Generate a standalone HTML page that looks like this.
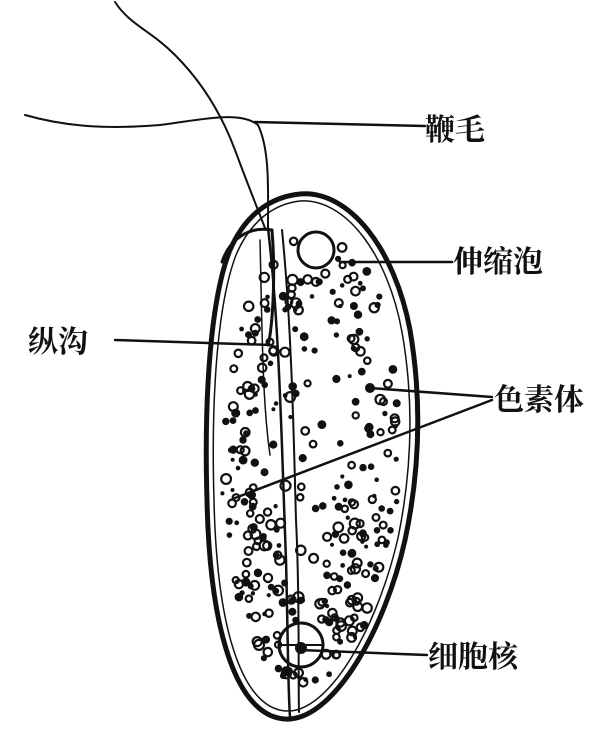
<!DOCTYPE html>
<html><head><meta charset="utf-8"><style>
html,body{margin:0;padding:0;background:#fff;}
svg{display:block}
text{font-family:"Liberation Serif","Noto Serif CJK SC",serif;font-size:30px;fill:#111;font-weight:bold}
</style></head><body>
<svg id="s" width="613" height="751" viewBox="0 0 613 751" xmlns="http://www.w3.org/2000/svg">
<g fill="none" stroke="#111" stroke-linecap="round">
<path d="M115,2 C130,25 150,30 175,55 C200,80 220,110 235,150 C248,185 258,210 265,228" stroke-width="2"/>
<path d="M25,115 C60,125 100,130 160,125 C200,120 240,110 258,125 C270,150 268,190 268,228" stroke-width="2"/>
<!-- body outline -->
<path d="M300,194 C350,190 395,250 410,330 C422,400 420,470 405,540 C385,630 335,716 290,719 C240,722 210,640 207,500 C204,400 210,300 230,250 C245,215 270,197 300,194 Z" stroke-width="5"/>
<path d="M300,201 C346,198 388,255 402,332 C414,400 412,470 398,538 C378,625 332,708 290,711 C246,713 217,640 214,500 C211,400 217,305 236,255 C250,222 273,204 300,201 Z" stroke-width="1.5"/>
<!-- left lobe -->
<path d="M222,262 C230,238 250,226 272,230" stroke-width="3"/>
<path d="M272,230 C276,280 272,330 268,345" stroke-width="3"/>
<!-- groove -->
<path d="M268,228 C280,330 282,460 286,560 C288,640 288,690 290,717" stroke-width="2.5"/>
<path d="M282,230 C292,330 294,450 296,520 C300,600 298,680 299,712" stroke-width="2"/>
<path d="M260,240 C262,320 262,400 270,455" stroke-width="1.5"/>
<circle cx="316" cy="250" r="18" stroke-width="3"/>
<circle cx="301" cy="645" r="22" stroke-width="3"/>
<line x1="279" y1="645" x2="323" y2="645" stroke-width="2"/>
<line x1="255" y1="122" x2="425" y2="126" stroke-width="2.5"/>
<line x1="340" y1="262" x2="452" y2="262" stroke-width="2.5"/>
<line x1="115" y1="340" x2="272" y2="345" stroke-width="2.5"/>
<line x1="370" y1="388" x2="492" y2="397" stroke-width="2.5"/>
<line x1="235" y1="498" x2="492" y2="400" stroke-width="2.5"/>
<line x1="300" y1="650" x2="427" y2="655" stroke-width="2.5"/>
</g>
<circle cx="301" cy="648" r="6" fill="#111"/>
<circle cx="370" cy="388" r="5" fill="#111"/>
<g id="dots" stroke="#111" fill="none"></g>
<text x="425" y="140">鞭毛</text>
<text x="453" y="272">伸缩泡</text>
<text x="28" y="352">纵沟</text>
<text x="494" y="410">色素体</text>
<text x="428" y="667">细胞核</text>
</svg>
<script>
(function(){
var g=document.getElementById('dots');var seed=7;
function r(){seed=(seed*16807)%2147483647;return seed/2147483647;}
function val(x,y){var cx=311,cy=456,a=100,b=255;var dx=x-cx+(y-cy)*0.03;var dy=y-cy;
 return (dx*dx)/(a*a)+(dy*dy)/(b*b);}
var n=0;
while(n<320){var x=205+r()*215,y=200+r()*520;var v=val(x,y);if(v>0.8)continue;
 if(v<0.3&&r()<0.6)continue;
 if(Math.abs(x-316)<22&&Math.abs(y-250)<22)continue;
 if(Math.abs(x-301)<22&&Math.abs(y-645)<22)continue;
 var c=document.createElementNS('http://www.w3.org/2000/svg','circle');
 c.setAttribute('cx',x.toFixed(1));c.setAttribute('cy',y.toFixed(1));
 var t=r();
 if(t<0.5){c.setAttribute('r',(3+r()*2).toFixed(1));c.setAttribute('stroke-width','2.2');}
 else{c.setAttribute('r',(1.5+r()*2.5).toFixed(1));c.setAttribute('fill','#111');}
 g.appendChild(c);n++;}
})();
</script>
</body></html>
